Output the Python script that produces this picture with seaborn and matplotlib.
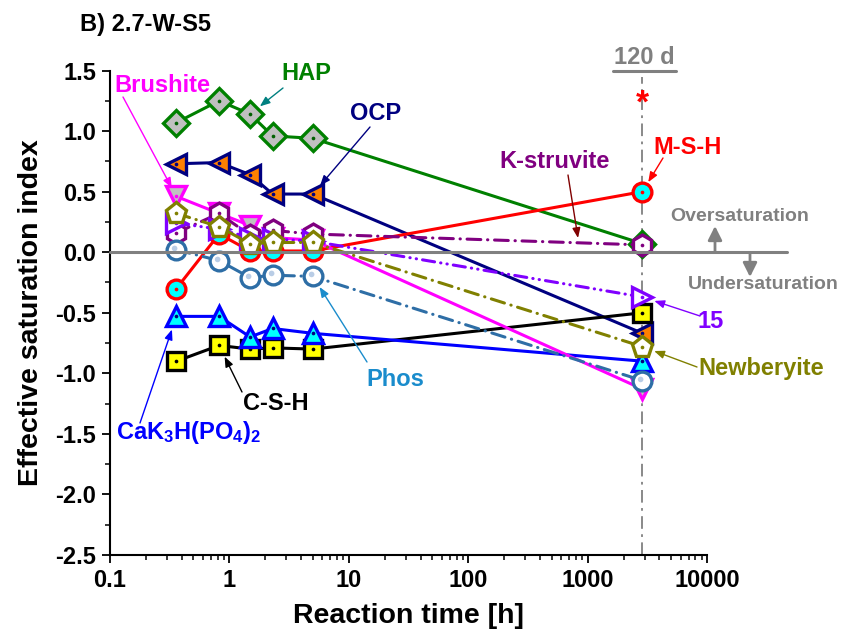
import numpy as np
import matplotlib
matplotlib.use("Agg")
import matplotlib.pyplot as plt
from matplotlib.lines import Line2D
from matplotlib.path import Path
from matplotlib.ticker import FixedLocator, MultipleLocator, LogLocator, NullFormatter, FuncFormatter
import seaborn as sns

# Reaction times [h] (last point = 120 d)
times_h = [0.36, 0.82, 1.49, 2.3, 5.0, 2880]

# Effective saturation indices per phase
hap = [1.07, 1.25, 1.14, 0.96, 0.94, 0.07]
ocp = [0.73, 0.74, 0.64, 0.48, 0.48, -0.67]
csh = [-0.90, -0.77, -0.80, -0.79, -0.80, -0.50]
cak = [-0.53, -0.53, -0.70, -0.63, -0.67, -0.90]
msh = [-0.30, 0.15, 0.01, 0.01, 0.01, 0.50]
brushite = [0.46, 0.32, 0.22, 0.12, 0.10, -1.13]
k_struvite = [0.16, 0.32, 0.14, 0.18, 0.15, 0.06]
phase15 = [0.24, 0.19, 0.12, 0.11, 0.09, -0.37]
phos = [0.02, -0.07, -0.21, -0.19, -0.20, -1.06]
newberyite = [0.32, 0.21, 0.07, 0.08, 0.08, -0.78]

x_ticks = [0.1, 1, 10, 100, 1000, 10000]

sns.set_style("ticks")
plt.rcParams["font.family"] = ["Liberation Sans", "DejaVu Sans"]
plt.rcParams["font.weight"] = "bold"
plt.rcParams["axes.unicode_minus"] = False
plt.rcParams["text.color"] = "black"
plt.rcParams["axes.labelcolor"] = "black"
plt.rcParams["mathtext.fontset"] = "custom"
plt.rcParams["mathtext.rm"] = "Liberation Sans:bold"
plt.rcParams["mathtext.bf"] = "Liberation Sans:bold"
plt.rcParams["mathtext.it"] = "Liberation Sans:bold"

W, H = 841, 644
fig = plt.figure(figsize=(W / 100, H / 100), dpi=100)
ax = fig.add_axes([110 / W, 1 - 555 / H, 597 / W, 484.5 / H])
ax.set_xscale("log")


def fpx(x, y):
    """Pixel position (from top-left) -> figure fraction."""
    return (x / W, 1 - y / H)


dash_dot = (0, (4.5, 2.2, 0.1, 2.2))
dash_dot_dot = (0, (4.0, 2.0, 0.1, 2.0, 0.1, 2.0))

# name, values, line colour, marker, size, face, linestyle, centre dot colour
series = [
    ("HAP", hap, "#008000", "D", 13.5, "#c0c0c0", "-", "#006000"),
    ("OCP", ocp, "#000080", "<", 15, "#ff8000", "-", "#000080"),
    ("C-S-H", csh, "#000000", "s", 12.5, "#ffff00", "-", "#000000"),
    ("CaK3H(PO4)2", cak, "#0000ff", "^", 15, "#00ffff", "-", "#000080"),
    ("M-S-H", msh, "#ff0000", "o", 13.5, "#00ffff", "-", "#ff0000"),
    ("Brushite", brushite, "#ff00ff", "v", 15, "#c0c0c0", "-", "#ff00ff"),
    ("K-struvite", k_struvite, "#800080", "h", 15, "#ffffff", dash_dot, "#800080"),
    ("15", phase15, "#8000ff", ">", 15, "#ffffff", dash_dot_dot, "#8000ff"),
    ("Phos", phos, "#2e6ea6", "o", 13.5, "#ffffff", dash_dot, None),
    ("Newberyite", newberyite, "#808000", "p", 15.5, "#ffffff", dash_dot, "#808000"),
]

for i, (name, vals, col, mk, ms, face, ls, dot) in enumerate(series):
    z = 3 + i * 0.3
    sns.lineplot(x=times_h, y=vals, ax=ax, color=col, marker=mk, markersize=ms,
                 markerfacecolor=face, markeredgecolor=col, markeredgewidth=2.4,
                 linewidth=2.2, linestyle=ls, dash_capstyle="round",
                 zorder=z, legend=False)
    if dot is not None:
        sns.scatterplot(x=times_h, y=vals, ax=ax, color=dot, s=7, linewidth=0,
                        zorder=z + 0.1, legend=False)

# glossy highlight inside the open Phos circles
circ = Path.circle(center=(-0.2, 0.22), radius=0.3)
glint = Path(np.vstack([[[1.0, 1.0]], [[-1.0, -1.0]], circ.vertices]),
             np.concatenate([[Path.MOVETO, Path.MOVETO], circ.codes]))
sns.scatterplot(x=times_h, y=phos, ax=ax, marker=glint, s=13.5 ** 2,
                color="#b9cde6", linewidth=0, zorder=3 + 8 * 0.3 + 0.1, legend=False)

# 120 d marker line and the zero line
ax.axvline(times_h[-1], ymin=0, ymax=(1.445 + 2.5) / 4.0, color="#808080", lw=1.3,
           ls=(0, (7, 3, 1.5, 3)), zorder=2)
ax.axhline(0, xmin=0, xmax=(787 - 110) / 597, color="#808080", lw=2.2,
           clip_on=False, zorder=10)

ax.set_xlim(0.1, 10000)
ax.set_ylim(-2.5, 1.5)
ax.xaxis.set_major_locator(FixedLocator(x_ticks))
ax.xaxis.set_major_formatter(FuncFormatter(lambda v, p: f"{v:g}"))
ax.xaxis.set_minor_locator(LogLocator(base=10, subs=np.arange(2, 10), numticks=20))
ax.xaxis.set_minor_formatter(NullFormatter())
ax.yaxis.set_major_locator(MultipleLocator(0.5))
ax.yaxis.set_minor_locator(MultipleLocator(0.25))
ax.yaxis.set_major_formatter(FuncFormatter(lambda v, p: f"{v:.1f}"))

ax.tick_params(which="major", direction="out", length=6, width=1.3,
               labelsize=17, pad=4, color="black", labelcolor="black")
ax.tick_params(which="minor", direction="out", length=3.5, width=1.1, color="black")
sns.despine(ax=ax)
for side in ("left", "bottom"):
    ax.spines[side].set_linewidth(1.5)
    ax.spines[side].set_color("black")
for lab in ax.get_xticklabels() + ax.get_yticklabels():
    lab.set_fontweight("bold")

ax.set_xlabel("Reaction time [h]", fontsize=20.5, fontweight="bold", labelpad=8,
              color="black")
ax.set_ylabel("Effective saturation index", fontsize=20.5, fontweight="bold", labelpad=8,
              color="black")

fig.text(*fpx(80, 25), "B) 2.7-W-S5", fontsize=17, fontweight="bold",
         ha="left", va="center", color="black")

# phase labels
labels = [
    ("HAP", (306, 73), "#008000", 17),
    ("Brushite", (162, 86), "#ff00ff", 17),
    ("OCP", (376, 114), "#000080", 17),
    ("M-S-H", (688, 147), "#ff0000", 17),
    ("K-struvite", (555, 162), "#800080", 17),
    ("Oversaturation", (740, 217), "#808080", 14),
    ("Undersaturation", (763, 284), "#808080", 14),
    ("15", (711, 322), "#8000ff", 17),
    ("Newberyite", (761, 368), "#808000", 17),
    ("Phos", (395, 380), "#1a8ccc", 17),
    ("C-S-H", (276, 404), "#000000", 17),
    (r"CaK$_\mathbf{3}$H(PO$_\mathbf{4}$)$_\mathbf{2}$", (189, 432), "#0000ff", 17),
]
for text, (px, py), col, fs in labels:
    fig.text(*fpx(px, py), text, fontsize=fs, fontweight="bold", color=col,
             ha="center", va="center")

# "120 d" header with underline and asterisk
fig.text(*fpx(644, 58), "120 d", fontsize=17, fontweight="bold", color="#808080",
         ha="center", va="center")
fig.add_artist(Line2D([613 / W, 676 / W], [1 - 71 / H] * 2, color="#808080", lw=2.2))
fig.text(*fpx(642, 104), "*", fontsize=24, fontweight="bold", color="#ff0000",
         ha="center", va="center")


def arrow(start, target, col, shrink=0, data=True, lw=1.0, head=(0.5, 0.2), scale=12):
    ax.annotate("", xy=target if data else fpx(*target),
                xycoords="data" if data else "figure fraction",
                xytext=fpx(*start), textcoords="figure fraction",
                arrowprops=dict(arrowstyle=f"-|>,head_length={head[0]},head_width={head[1]}",
                                color=col, lw=lw, shrinkA=0, shrinkB=shrink,
                                mutation_scale=scale),
                annotation_clip=False, zorder=12)


arrow((283, 88), (times_h[2], hap[2]), "#008080", 9)
arrow((123, 97), (times_h[0], brushite[0]), "#ff00ff", 7)
arrow((370, 127), (times_h[4], ocp[4]), "#000080", 8)
arrow((663, 158), (times_h[5], msh[5]), "#ff0000", 8)
arrow((568, 175), (578, 238), "#800000", data=False)
arrow((700, 316), (times_h[5], phase15[5]), "#8000ff", 9)
arrow((697, 367), (times_h[5], newberyite[5]), "#808000", 9)
arrow((367, 362), (times_h[4], phos[4]), "#1a8ccc", 9)
arrow((242, 392), (times_h[1], csh[1]), "#000000", 9)
arrow((140, 423), (times_h[0], cak[0]), "#0000ff", 10)
arrow((715, 251), (715, 226), "#808080", data=False, lw=2.0, head=(0.7, 0.35))
arrow((750, 253), (750, 277), "#808080", data=False, lw=2.0, head=(0.7, 0.35))

fig.savefig("out.png", dpi=100, facecolor="white")
